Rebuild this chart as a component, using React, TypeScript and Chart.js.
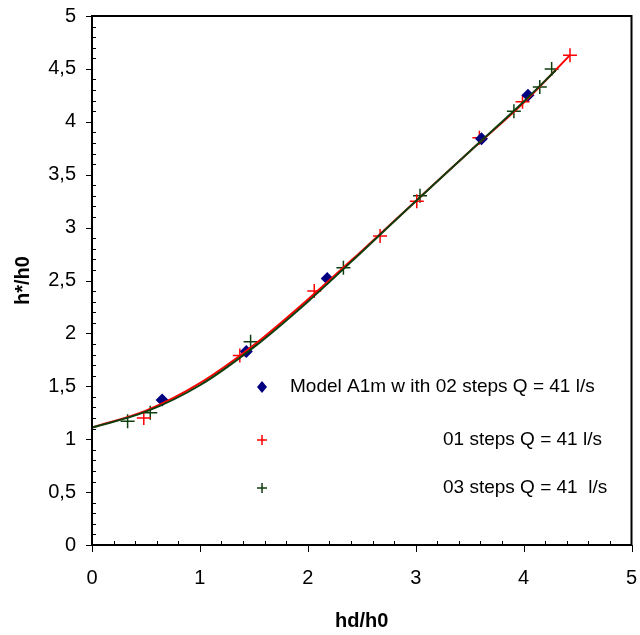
import React, { useEffect, useRef } from "react";
import { Chart, registerables } from "chart.js";

Chart.register(...registerables);

// ---- data ----
const seriesNames = [
  "Model A1m w ith 02 steps Q = 41 l/s",
  "01 steps Q = 41 l/s",
  "03 steps Q = 41  l/s",
];

const modelX = [0.65, 1.43, 2.18, 3.61, 4.04];
const modelY = [1.37, 1.83, 2.52, 3.84, 4.25];

const step01X = [0.48, 1.37, 2.06, 2.67, 3.01, 3.59, 3.99, 4.43];
const step01Y = [1.2, 1.79, 2.4, 2.92, 3.25, 3.85, 4.19, 4.63];

const step03X = [0.33, 0.54, 1.47, 2.33, 3.04, 3.91, 4.15, 4.26];
const step03Y = [1.17, 1.25, 1.92, 2.62, 3.3, 4.1, 4.33, 4.5];

// trend curves
const trend01X = [0, 0.5, 1, 1.5, 2, 2.5, 3, 3.5, 4, 4.43];
const trend01Y = [1.11, 1.27, 1.53, 1.89, 2.32, 2.78, 3.25, 3.72, 4.18, 4.63];

const trend03X = [0, 0.5, 1, 1.5, 2, 2.5, 3, 3.5, 4, 4.3];
const trend03Y = [1.11, 1.26, 1.51, 1.87, 2.3, 2.77, 3.25, 3.72, 4.19, 4.49];

const axisMin = 0;
const axisMax = 5;
const xStep = 1;
const yStep = 0.5;
const xMinorStep = 0.2;
const yMinorStep = 0.1;

const xTitle = "hd/h0";
const yTitle = "h*/h0";

const BLUE = "#000080";
const RED = "#ff0000";
const GREEN = "#0f3f0f";
const FONT = '"Liberation Sans Narrow", "Arial Narrow", "Liberation Sans", Arial, sans-serif';

const pts = (xs: number[], ys: number[]) => xs.map((x, i) => ({ x, y: ys[i] }));

const framePlugin = {
  id: "frame",
  afterDraw(chart: any) {
    const { ctx, chartArea } = chart;
    const { left, top, right, bottom } = chartArea;
    const xs = chart.scales.x;
    const ys = chart.scales.y;
    ctx.save();
    ctx.strokeStyle = "#000";
    ctx.lineWidth = 2;
    ctx.strokeRect(left, top, right - left, bottom - top);
    ctx.lineWidth = 1;
    ctx.beginPath();
    const nY = Math.round((axisMax - axisMin) / yMinorStep);
    for (let i = 0; i <= nY; i++) {
      const v = axisMin + i * yMinorStep;
      const py = Math.round(ys.getPixelForValue(v)) + 0.5;
      if (i % Math.round(yStep / yMinorStep) === 0) {
        ctx.moveTo(left - 6, py);
        ctx.lineTo(left, py);
      } else {
        ctx.moveTo(left, py);
        ctx.lineTo(left + 4, py);
      }
    }
    const nX = Math.round((axisMax - axisMin) / xMinorStep);
    for (let i = 0; i <= nX; i++) {
      const v = axisMin + i * xMinorStep;
      const px = Math.round(xs.getPixelForValue(v)) + 0.5;
      if (i % Math.round(xStep / xMinorStep) === 0) {
        ctx.moveTo(px, bottom);
        ctx.lineTo(px, bottom + 7);
      } else {
        ctx.moveTo(px, bottom - 4);
        ctx.lineTo(px, bottom);
      }
    }
    ctx.stroke();

    // legend inside the plot
    const rows = [
      { style: "diamond", color: BLUE, textX: 290, y: 387 },
      { style: "cross", color: RED, textX: 443, y: 440 },
      { style: "cross", color: GREEN, textX: 443, y: 488 },
    ];
    const mx = 262;
    ctx.font = `19px ${FONT}`;
    ctx.textBaseline = "middle";
    ctx.textAlign = "left";
    rows.forEach((r, i) => {
      ctx.fillStyle = r.color;
      ctx.strokeStyle = r.color;
      if (r.style === "diamond") {
        ctx.beginPath();
        ctx.moveTo(mx, r.y - 6);
        ctx.lineTo(mx + 5, r.y);
        ctx.lineTo(mx, r.y + 6);
        ctx.lineTo(mx - 5, r.y);
        ctx.closePath();
        ctx.fill();
      } else {
        ctx.lineWidth = 1.5;
        ctx.beginPath();
        ctx.moveTo(mx - 5, r.y);
        ctx.lineTo(mx + 5, r.y);
        ctx.moveTo(mx, r.y - 5);
        ctx.lineTo(mx, r.y + 5);
        ctx.stroke();
      }
      ctx.fillStyle = "#000";
      ctx.fillText(seriesNames[i], r.textX, r.y);
    });
    ctx.restore();
  },
};

export default function App() {
  const ref = useRef<HTMLCanvasElement | null>(null);
  useEffect(() => {
    if (!ref.current) return;
    const chart = new Chart(ref.current, {
      type: "scatter",
      data: {
        datasets: [
          {
            label: "trend 03",
            data: pts(trend03X, trend03Y),
            showLine: true,
            borderColor: GREEN,
            borderWidth: 2,
            pointRadius: 0,
            cubicInterpolationMode: "monotone",
          } as any,
          {
            label: "trend 01",
            data: pts(trend01X, trend01Y),
            showLine: true,
            borderColor: RED,
            borderWidth: 2,
            pointRadius: 0,
            cubicInterpolationMode: "monotone",
          } as any,
          {
            label: seriesNames[0],
            data: pts(modelX, modelY),
            pointStyle: "rectRot",
            pointRadius: 6.5,
            backgroundColor: BLUE,
            borderColor: BLUE,
            borderWidth: 0,
          },
          {
            label: seriesNames[1],
            data: pts(step01X, step01Y),
            pointStyle: "cross",
            pointRadius: 7,
            borderColor: RED,
            borderWidth: 1.5,
          },
          {
            label: seriesNames[2],
            data: pts(step03X, step03Y),
            pointStyle: "cross",
            pointRadius: 7,
            borderColor: GREEN,
            borderWidth: 1.5,
          },
        ],
      },
      options: {
        animation: false,
        responsive: false,
        devicePixelRatio: 1,
        layout: { padding: { left: 0, top: 16, right: 4, bottom: 0 } },
        plugins: { legend: { display: false }, tooltip: { enabled: false } },
        scales: {
          x: {
            type: "linear",
            min: axisMin,
            max: axisMax,
            afterFit: (s: any) => {
              s.height = 90;
              s.paddingLeft = 0;
              s.paddingRight = 0;
            },
            grid: { display: false, drawTicks: false },
            border: { display: false },
            ticks: {
              stepSize: xStep,
              padding: 21,
              color: "#000",
              font: { family: FONT, size: 20 },
              maxRotation: 0,
            },
            title: {
              display: true,
              text: xTitle,
              color: "#000",
              font: { family: FONT, size: 20, weight: "bold" },
              padding: { top: 0, bottom: 2 },
            },
          },
          y: {
            type: "linear",
            min: axisMin,
            max: axisMax,
            afterFit: (s: any) => {
              s.width = 92;
              s.paddingTop = 0;
              s.paddingBottom = 0;
            },
            grid: { display: false, drawTicks: false },
            border: { display: false },
            ticks: {
              stepSize: yStep,
              padding: 16,
              color: "#000",
              font: { family: FONT, size: 20 },
              callback: (v: any) => String(v).replace(".", ","),
            },
            title: {
              display: true,
              text: yTitle,
              color: "#000",
              font: { family: FONT, size: 20, weight: "bold" },
              padding: { top: 11, bottom: 0 },
            },
          },
        },
      },
      plugins: [framePlugin],
    });
    return () => chart.destroy();
  }, []);
  return (
    <div style={{ position: "absolute", left: 0, top: 0, width: 640, height: 635, background: "#fff" }}>
      <canvas ref={ref} width={640} height={635} />
    </div>
  );
}
